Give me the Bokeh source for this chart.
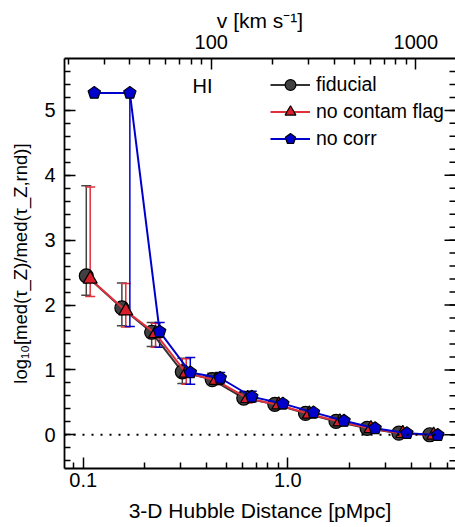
import numpy as np
from bokeh.plotting import figure
from bokeh.models import (Range1d, LogScale, LogAxis, FixedTicker,
                          CustomJSTickFormatter, Whisker, TeeHead,
                          ColumnDataSource, Span, Label, Legend, LegendItem)
from bokeh.embed import file_html
from bokeh.resources import INLINE

# ---------------- data ----------------
dist = [0.1035, 0.1545, 0.216, 0.305, 0.427, 0.609, 0.864, 1.22, 1.72, 2.44, 3.49, 4.94]

fid_y  = [2.45, 1.955, 1.58, 0.97, 0.85, 0.566, 0.47, 0.33, 0.205, 0.10, 0.025, 0.0]
fid_lo = [2.15, 1.68, 1.36, 0.79, 0.78, 0.50, 0.43, 0.30, 0.18, 0.07, 0.00, -0.02]
fid_hi = [3.84, 2.34, 1.73, 1.18, 0.95, 0.66, 0.52, 0.37, 0.24, 0.13, 0.05, 0.02]

nocf_y  = [2.40, 1.91, 1.56, 0.95, 0.84, 0.56, 0.46, 0.32, 0.20, 0.095, 0.02, -0.005]
nocf_lo = [2.13, 1.66, 1.35, 0.78, 0.77, 0.49, 0.42, 0.29, 0.17, 0.065, -0.01, -0.025]
nocf_hi = [3.82, 2.33, 1.72, 1.17, 0.94, 0.65, 0.51, 0.36, 0.23, 0.125, 0.045, 0.015]

nocorr_y  = [5.27, 5.27, 1.59, 0.96, 0.875, 0.586, 0.48, 0.345, 0.215, 0.10, 0.025, -0.005]
nocorr_lo = [5.27, 1.67, 1.35, 0.78, 0.80, 0.51, 0.44, 0.31, 0.19, 0.07, 0.00, -0.025]
nocorr_hi = [5.27, 5.27, 1.73, 1.19, 0.96, 0.67, 0.53, 0.38, 0.25, 0.13, 0.05, 0.015]

series_names = ["fiducial", "no contam flag", "no corr"]
dodge = [1.0, 1.045, 1.094]          # horizontal offset factors (style)

H_KMS = 236.8                         # km/s per pMpc (top axis conversion)
x_ticks = [0.1, 1.0]
x_minor = [0.09, 0.2, 0.3, 0.4, 0.5, 0.6, 0.7, 0.8, 0.9, 2, 3, 4, 5, 6]
v_ticks = [100, 1000]
v_minor = [20, 30, 40, 50, 60, 70, 80, 90, 200, 300, 400, 500, 600, 700, 800, 900]
y_ticks = [0, 1, 2, 3, 4, 5]
y_minor = [round(-0.4 + 0.2 * i, 1) for i in range(31)]

X0, X1 = 0.0810, 6.60
Y0, Y1 = -0.52, 5.80

FONT = "Liberation Sans"
FS_TICK = "20px"
FS_LAB = "21px"
FS_LEG = "19.5px"

p = figure(width=455, height=527, x_axis_type="log",
           x_range=Range1d(X0, X1), y_range=Range1d(Y0, Y1),
           output_backend="svg", toolbar_location=None,
           min_border_left=64, min_border_right=0,
           min_border_top=58, min_border_bottom=59)
p.xgrid.visible = False
p.ygrid.visible = False
p.outline_line_color = None
p.background_fill_color = "white"

p.extra_x_ranges = {"v": Range1d(X0 * H_KMS, X1 * H_KMS)}
p.extra_x_scales = {"v": LogScale()}


def style_axis(ax):
    ax.axis_line_color = "black"
    ax.axis_line_width = 1.8
    ax.major_tick_line_color = "black"
    ax.minor_tick_line_color = "black"
    ax.major_tick_line_width = 1.5
    ax.minor_tick_line_width = 1.5
    ax.major_tick_in = 11
    ax.major_tick_out = 0
    ax.minor_tick_in = 6
    ax.minor_tick_out = 0
    ax.major_label_text_font = FONT
    ax.major_label_text_font_size = FS_TICK
    ax.major_label_text_color = "black"
    ax.axis_label_text_font = FONT
    ax.axis_label_text_font_size = FS_LAB
    ax.axis_label_text_font_style = "normal"
    ax.axis_label_text_color = "black"


# bottom axis
xb = p.xaxis[0]
xb.ticker = FixedTicker(ticks=x_ticks, minor_ticks=x_minor)
xb.formatter = CustomJSTickFormatter(code="return tick.toFixed(1);")
xb.axis_label = "3-D Hubble Distance [pMpc]"
style_axis(xb)
xb.major_label_standoff = 4
xb.axis_label_standoff = 9

# left axis
yl = p.yaxis[0]
yl.ticker = FixedTicker(ticks=y_ticks, minor_ticks=y_minor)
yl.axis_label = "log\u2081\u2080[med(\u03c4_Z)/med(\u03c4_Z,rnd)]"
style_axis(yl)
yl.axis_label_text_font_size = "18.5px"
yl.major_label_standoff = 9
yl.axis_label_standoff = 10

# top axis
xt = LogAxis(x_range_name="v", ticker=FixedTicker(ticks=v_ticks, minor_ticks=v_minor),
             axis_label="v [km s\u207b\u00b9]")
xt.formatter = CustomJSTickFormatter(code="return tick.toFixed(0);")
style_axis(xt)
xt.major_label_standoff = 10
xt.axis_label_standoff = 0
p.add_layout(xt, "above")

# right-hand ticks (inward), no axis line / labels
p.ray(x=[X1] * len(y_ticks), y=y_ticks, length=11, length_units="screen",
      angle=np.pi, line_color="black", line_width=1.5)
p.ray(x=[X1] * len(y_minor), y=y_minor, length=6, length_units="screen",
      angle=np.pi, line_color="black", line_width=1.5)

# zero line
p.add_layout(Span(location=0, dimension="width", line_color="black",
                  line_dash="2 7", line_width=1.8))

colors_line = ["#333333", "#e0303c", "#0000cc"]
colors_fill = ["#404040", "#d81e2c", "#0000cc"]
colors_err = ["#444444", "#e0303c", "#0000cc"]
ys = [fid_y, nocf_y, nocorr_y]
los = [fid_lo, nocf_lo, nocorr_lo]
his = [fid_hi, nocf_hi, nocorr_hi]

for k in range(3):
    xs = [d * dodge[k] for d in dist]
    src = ColumnDataSource(dict(x=xs, y=ys[k], lo=los[k], hi=his[k]))
    w = Whisker(source=src, base="x", lower="lo", upper="hi", dimension="height",
                line_color=colors_err[k], line_width=1.5,
                upper_head=TeeHead(size=10, line_color=colors_err[k], line_width=1.5),
                lower_head=TeeHead(size=10, line_color=colors_err[k], line_width=1.5))
    p.add_layout(w)

items = []
for k in range(3):
    xs = [d * dodge[k] for d in dist]
    src = ColumnDataSource(dict(x=xs, y=ys[k]))
    lr = p.line("x", "y", source=src, line_color=colors_line[k], line_width=2)
    if k == 0:
        mr = p.scatter("x", "y", source=src, marker="circle", size=14,
                       fill_color=colors_fill[k], line_color="black", line_width=1.2)
    elif k == 1:
        mr = p.scatter("x", "y", source=src, marker="triangle", size=14,
                       fill_color=colors_fill[k], line_color="black", line_width=1.2)
    else:
        mr = p.ngon("x", "y", source=src, radius=6.5, radius_units="screen", n=5,
                    angle=0, fill_color=colors_fill[k], line_color="black",
                    line_width=1.2)
    items.append(LegendItem(label=series_names[k], renderers=[lr, mr]))

legend = Legend(items=items, location=(206, 316), orientation="vertical")
legend.border_line_color = None
legend.background_fill_alpha = 0
legend.padding = 0
legend.margin = 0
legend.spacing = 0
legend.glyph_width = 40
legend.glyph_height = 27
legend.label_height = 27
legend.label_standoff = 6
legend.label_text_font = FONT
legend.label_text_font_size = FS_LEG
legend.label_text_color = "black"
p.add_layout(legend)

p.add_layout(Label(x=128, y=383, x_units="screen", y_units="screen", text="HI",
                   text_font=FONT, text_font_size=FS_TICK, text_baseline="middle",
                   text_color="black"))

open("out.html", "w").write(file_html(p, INLINE))
